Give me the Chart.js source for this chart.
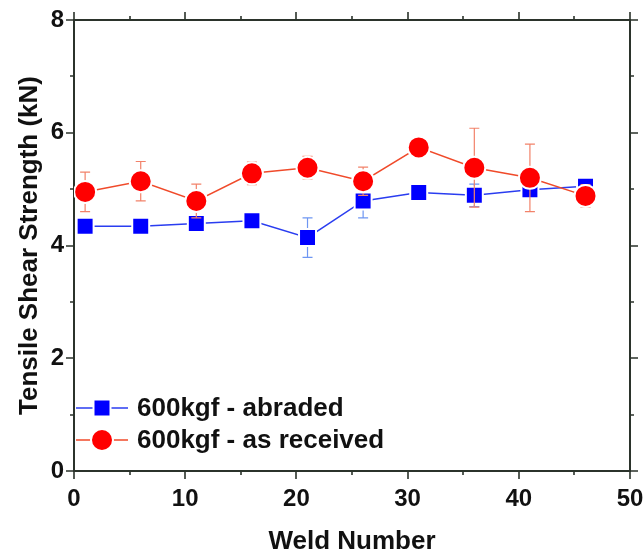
<!DOCTYPE html>
<html>
<head>
<meta charset="utf-8">
<script src="https://cdn.jsdelivr.net/npm/chart.js@4/dist/chart.umd.min.js"></script>
<style>
  html, body { margin: 0; padding: 0; background: #fff; }
</style>
</head>
<body>
<canvas id="shearChart" width="644" height="553"></canvas>
<script>
// values
const weldNumbers = [1, 6, 11, 16, 21, 26, 31, 36, 41, 46];
const abradedMean = [4.34, 4.34, 4.39, 4.44, 4.14, 4.79, 4.94, 4.89, 4.99, 5.05];
const abradedErr  = [0.0, 0.0, 0.0, 0.0, 0.35, 0.3, 0.0, 0.2, 0.12, 0.05];
const receivedMean = [4.95, 5.14, 4.79, 5.28, 5.38, 5.14, 5.74, 5.38, 5.2, 4.88];
const receivedErr  = [0.35, 0.35, 0.3, 0.2, 0.2, 0.25, 0.0, 0.7, 0.6, 0.2];
const xTickLabels = [0, 10, 20, 30, 40, 50];
const yTickLabels = [0, 2, 4, 6, 8];
const seriesNames = ['600kgf - abraded', '600kgf - as received'];

const FONT = '"Liberation Sans", Arial, sans-serif';
const AXIS_COLOR = '#2b332b';

const toPoints = (ys) => weldNumbers.map((x, i) => ({ x: x, y: ys[i] }));

// error bars drawn just before each dataset so markers sit on top
const errorBars = {
  id: 'errorBars',
  beforeDatasetDraw(chart, args) {
    const ds = chart.data.datasets[args.index];
    if (!ds.errors) return;
    const { ctx, scales: { x, y } } = chart;
    ctx.save();
    ctx.strokeStyle = ds.errorColor;
    ctx.lineWidth = 1.2;
    ds.data.forEach((p, i) => {
      const e = ds.errors[i];
      if (!e) return;
      const px = x.getPixelForValue(p.x);
      const top = y.getPixelForValue(p.y + e);
      const bot = y.getPixelForValue(p.y - e);
      ctx.beginPath();
      ctx.moveTo(px, top); ctx.lineTo(px, bot);
      ctx.moveTo(px - 5, top); ctx.lineTo(px + 5, top);
      ctx.moveTo(px - 5, bot); ctx.lineTo(px + 5, bot);
      ctx.stroke();
    });
    ctx.restore();
  }
};

// frame with outward ticks on all four sides
const axisBox = {
  id: 'axisBox',
  beforeDatasetsDraw(chart) {
    const { ctx, chartArea: a, scales: { x, y } } = chart;
    ctx.save();
    ctx.strokeStyle = AXIS_COLOR;
    ctx.lineWidth = 2;
    ctx.strokeRect(a.left, a.top, a.right - a.left, a.bottom - a.top);
    ctx.lineWidth = 1.6;
    ctx.beginPath();
    for (let v = x.min; v <= x.max; v += 5) {
      const px = Math.round(x.getPixelForValue(v));
      const len = v % 10 === 0 ? 8 : 4;
      ctx.moveTo(px, a.bottom); ctx.lineTo(px, a.bottom + len);
      ctx.moveTo(px, a.top); ctx.lineTo(px, a.top - len);
    }
    for (let v = y.min; v <= y.max; v += 1) {
      const py = Math.round(y.getPixelForValue(v));
      const len = v % 2 === 0 ? 8 : 4;
      ctx.moveTo(a.left, py); ctx.lineTo(a.left - len, py);
      ctx.moveTo(a.right, py); ctx.lineTo(a.right + len, py);
    }
    ctx.stroke();
    ctx.restore();
  }
};

// legend inside the plot, lower left
const insideLegend = {
  id: 'insideLegend',
  afterDatasetsDraw(chart) {
    const { ctx, chartArea: a } = chart;
    const rows = [408, 440];
    ctx.save();
    chart.data.datasets.forEach((ds, i) => {
      const yy = rows[i];
      const cx = a.left + 28;
      ctx.strokeStyle = ds.borderColor;
      ctx.lineWidth = 1.5;
      ctx.beginPath();
      ctx.moveTo(a.left + 2, yy); ctx.lineTo(a.left + 54, yy);
      ctx.stroke();
      ctx.fillStyle = ds.pointBackgroundColor;
      ctx.strokeStyle = '#fff';
      ctx.lineWidth = 2;
      ctx.beginPath();
      if (ds.pointStyle === 'rect') {
        ctx.rect(cx - 8.5, yy - 8.5, 17, 17);
      } else {
        ctx.arc(cx, yy, 11, 0, Math.PI * 2);
      }
      ctx.fill();
      ctx.stroke();
      ctx.fillStyle = '#111';
      ctx.font = 'bold 26px ' + FONT;
      ctx.textBaseline = 'middle';
      ctx.fillText(seriesNames[i], a.left + 63, yy + 1);
    });
    ctx.restore();
  }
};

new Chart(document.getElementById('shearChart'), {
  type: 'line',
  data: {
    datasets: [{
      label: seriesNames[0],
      data: toPoints(abradedMean),
      errors: abradedErr,
      errorColor: '#6e96f2',
      borderColor: '#2a3df0',
      borderWidth: 1.5,
      pointStyle: 'rect',
      pointRadius: 12,
      pointBackgroundColor: '#0000ff',
      pointBorderColor: '#ffffff',
      pointBorderWidth: 2,
      order: 1
    }, {
      label: seriesNames[1],
      data: toPoints(receivedMean),
      errors: receivedErr,
      errorColor: '#f2826a',
      borderColor: '#f04a2a',
      borderWidth: 1.5,
      pointStyle: 'circle',
      pointRadius: 11,
      pointBackgroundColor: '#ff0000',
      pointBorderColor: '#ffffff',
      pointBorderWidth: 2,
      order: 0
    }]
  },
  options: {
    responsive: false,
    animation: false,
    devicePixelRatio: 1,
    layout: { padding: { top: 20, right: 13, left: 0, bottom: 0 } },
    plugins: {
      legend: { display: false },
      tooltip: { enabled: false }
    },
    scales: {
      x: {
        type: 'linear',
        min: 0,
        max: 50,
        afterBuildTicks: (s) => { s.ticks = xTickLabels.map(v => ({ value: v })); },
        afterFit: (s) => { s.height = 82; s.paddingLeft = 0; s.paddingRight = 0; },
        grid: { display: false, drawTicks: false },
        border: { display: false },
        ticks: { color: '#111', padding: 14, font: { family: FONT, size: 24, weight: 'bold' } },
        title: { display: true, text: 'Weld Number', color: '#111', padding: 0,
                 font: { family: FONT, size: 26, weight: 'bold', lineHeight: 0.85 } }
      },
      y: {
        min: 0,
        max: 8,
        afterBuildTicks: (s) => { s.ticks = yTickLabels.map(v => ({ value: v })); },
        afterFit: (s) => { s.width = 74; s.paddingTop = 0; s.paddingBottom = 0; },
        grid: { display: false, drawTicks: false },
        border: { display: false },
        ticks: { color: '#111', padding: 10, font: { family: FONT, size: 24, weight: 'bold' } },
        title: { display: true, text: 'Tensile Shear Strength (kN)', color: '#111',
                 padding: { top: 17, bottom: 0 },
                 font: { family: FONT, size: 26, weight: 'bold', lineHeight: 1.0 } }
      }
    }
  },
  plugins: [axisBox, errorBars, insideLegend]
});
</script>
</body>
</html>
